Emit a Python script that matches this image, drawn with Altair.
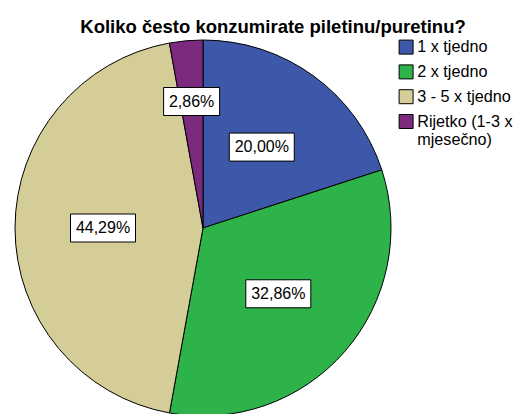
import math
import altair as alt
import pandas as pd

categories = ["1 x tjedno", "2 x tjedno", "3 - 5 x tjedno", "Rijetko (1-3 x mjesečno)"]
percentages = [20.00, 32.86, 44.29, 2.86]
colors = ["#3D58A8", "#2EB34B", "#D4CD98", "#7B2A7E"]

title_text = "Koliko često konzumirate piletinu/puretinu?"

# geometry (pixels, view coordinates)
CX, CY, R = 195, 190, 188

df = pd.DataFrame({"cat": categories, "pct": percentages, "ord": range(len(categories))})
total = df["pct"].sum()
cum = df["pct"].cumsum() - df["pct"]
mid = (cum + df["pct"] / 2) / total * 2 * math.pi
lr = [100 if p > 5 else 127 for p in df["pct"]]
df["lx"] = [CX + r * math.sin(a) for r, a in zip(lr, mid)]
df["ly"] = [CY - r * math.cos(a) for r, a in zip(lr, mid)]
df["label"] = [f"{p:.2f}".replace(".", ",") + "%" for p in df["pct"]]
df["bw"] = [9 * len(t) + 11 for t in df["label"]]
df["x1"] = df["lx"] - df["bw"] / 2
df["x2"] = df["lx"] + df["bw"] / 2
df["y1"] = df["ly"] - 14
df["y2"] = df["ly"] + 14

FONT = "Liberation Sans"

pie = alt.Chart(df).mark_arc(outerRadius=R, stroke="black", strokeWidth=1).encode(
    theta=alt.Theta("pct:Q", stack=True),
    order=alt.Order("ord:Q"),
    x=alt.value(CX),
    y=alt.value(CY),
    color=alt.Color(
        "cat:N",
        scale=alt.Scale(domain=categories, range=colors),
        legend=alt.Legend(
            title=None,
            orient="none",
            legendX=390,
            legendY=1,
            symbolType="square",
            symbolSize=196,
            symbolStrokeColor="black",
            symbolStrokeWidth=1,
            symbolOpacity=1,
            labelFont=FONT,
            labelFontSize=16.2,
            labelColor="black",
            labelLimit=300,
            labelOffset=3,
            rowPadding=5.8,
            padding=0,
            labelExpr="datum.label == 'Rijetko (1-3 x mjesečno)' ? ['Rijetko (1-3 x', 'mjesečno)'] : datum.label",
        ),
    ),
)

boxes = alt.Chart(df).mark_rect(fill="white", stroke="black", strokeWidth=1).encode(
    x=alt.X("x1:Q", scale=None),
    x2="x2:Q",
    y=alt.Y("y1:Q", scale=None),
    y2="y2:Q",
)

labels = alt.Chart(df).mark_text(font=FONT, fontSize=16, color="black", baseline="middle", align="center").encode(
    x=alt.X("lx:Q", scale=None),
    y=alt.Y("ly:Q", scale=None),
    text="label:N",
)

chart = alt.layer(pie, boxes, labels).properties(
    width=510,
    height=376,
    autosize=alt.AutoSizeParams(type="none"),
    padding={"left": 0, "top": 30, "right": 0, "bottom": 0},
    title=alt.Title(
        title_text,
        font=FONT,
        fontSize=18.5,
        fontWeight="bold",
        color="black",
        anchor="middle",
        offset=2,
        dx=10,
    ),
).configure_view(stroke=None)

chart.save("out.html", embed_options={"renderer": "svg", "actions": False})
